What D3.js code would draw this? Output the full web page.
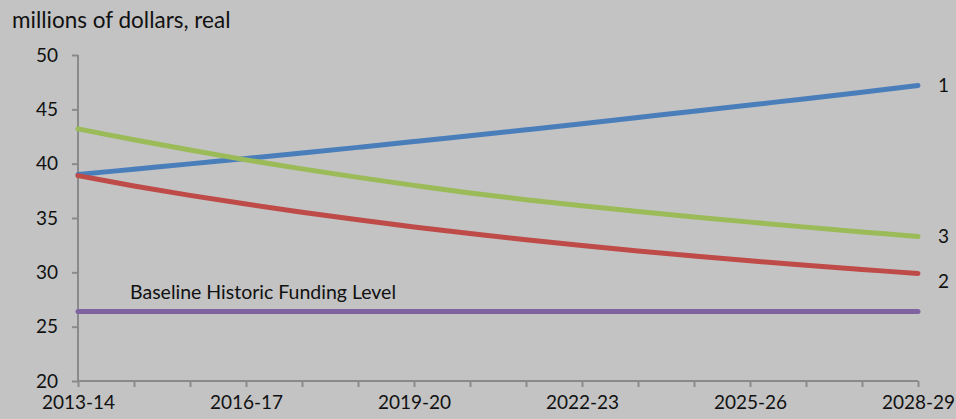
<!DOCTYPE html>
<meta charset="utf-8">
<head>
<script src="https://d3js.org/d3.v7.min.js"></script>
<style>
  body { margin: 0; background: #c3c3c3; }
  text { font-family: Lato, "Open Sans", sans-serif; fill: #111; }
</style>
</head>
<body>
<script>

var years = ["2013-14","2014-15","2015-16","2016-17","2017-18","2018-19","2019-20","2020-21",
  "2021-22","2022-23","2023-24","2024-25","2025-26","2026-27","2027-28","2028-29"];
var tickLabels = ["2013-14","2016-17","2019-20","2022-23","2025-26","2028-29"];
var yTicks = [20, 25, 30, 35, 40, 45, 50];

var series1 = [39.0,39.49,39.98,40.47,40.98,41.5,42.03,42.57,43.12,43.68,44.25,44.82,45.4,45.98,46.58,47.2];
var series2 = [38.9,37.95,37.08,36.28,35.53,34.83,34.18,33.57,33.0,32.47,31.97,31.5,31.06,30.65,30.26,29.9];
var series3 = [43.2,42.2,41.25,40.35,39.52,38.74,38.0,37.3,36.68,36.12,35.6,35.1,34.62,34.16,33.72,33.3];
var baseline = [26.4,26.4,26.4,26.4,26.4,26.4,26.4,26.4,26.4,26.4,26.4,26.4,26.4,26.4,26.4,26.4];

var width = 956, height = 419;
var margin = {top: 55, right: 38, bottom: 38, left: 78};

var svg = d3.select("body").append("svg")
  .attr("width", width)
  .attr("height", height);

var x = d3.scalePoint()
  .domain(years)
  .range([margin.left, width - margin.right]);

var y = d3.scaleLinear()
  .domain([20, 50])
  .range([height - margin.bottom, margin.top]);

// axes
var yAxis = svg.append("g")
  .attr("transform", "translate(" + margin.left + ",0)")
  .call(d3.axisLeft(y).tickValues(yTicks).tickSize(6).tickPadding(14));

var xAxis = svg.append("g")
  .attr("transform", "translate(0," + (height - margin.bottom) + ")")
  .call(d3.axisBottom(x).tickSize(6).tickPadding(9)
    .tickFormat(function(d) { return tickLabels.indexOf(d) >= 0 ? d : ""; }));

svg.selectAll(".domain, .tick line")
  .attr("stroke", "#8a8a8a")
  .attr("stroke-width", 2);
svg.selectAll(".tick text")
  .style("font-size", "19px")
  .attr("fill", "#111");
xAxis.selectAll(".domain").attr("d", "M" + margin.left + ",0H" + (width - margin.right));
yAxis.selectAll(".domain").attr("d", "M0," + y(20) + "V" + y(50));

// lines
var line = d3.line()
  .x(function(d, i) { return x(years[i]); })
  .y(function(d) { return y(d); })
  .curve(d3.curveCatmullRom);

var lines = [
  {values: series1, color: "#4a7ebb", label: "1", dy: 0},
  {values: series3, color: "#9bbb59", label: "3", dy: 0},
  {values: series2, color: "#be4b48", label: "2", dy: 8},
  {values: baseline, color: "#7f63a1", label: null, dy: 0}
];

svg.selectAll("path.series")
  .data(lines)
  .enter().append("path")
  .attr("class", "series")
  .attr("fill", "none")
  .attr("stroke", function(d) { return d.color; })
  .attr("stroke-width", 5)
  .attr("stroke-linecap", "round")
  .attr("d", function(d) { return line(d.values); });

svg.selectAll("text.lab")
  .data(lines.filter(function(d) { return d.label; }))
  .enter().append("text")
  .attr("class", "lab")
  .attr("x", x(years[years.length - 1]) + 20)
  .attr("y", function(d) { return y(d.values[d.values.length - 1]) + d.dy; })
  .attr("dy", "0.35em")
  .style("font-size", "19px")
  .text(function(d) { return d.label; });

svg.append("text")
  .attr("x", x(years[0]) + 52)
  .attr("y", y(baseline[0]) - 12)
  .style("font-size", "19.5px")
  .text("Baseline Historic Funding Level");

svg.append("text")
  .attr("x", 12)
  .attr("y", 28)
  .style("font-size", "22.5px")
  .text("millions of dollars, real");

</script>
</body>
